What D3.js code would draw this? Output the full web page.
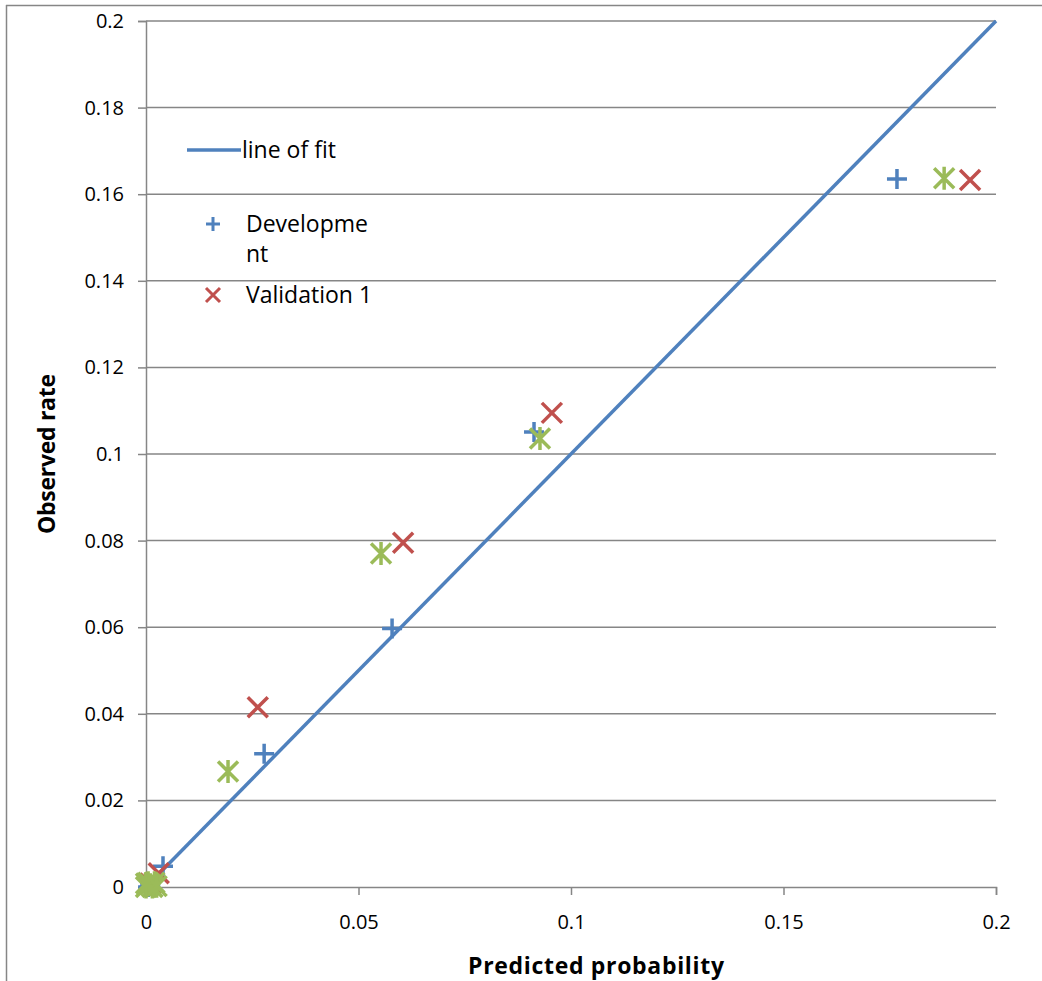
<!DOCTYPE html>
<html>
<head>
<meta charset="utf-8">
<script src="https://cdn.jsdelivr.net/npm/d3@7"></script>
<style>
  body { margin: 0; background: #fff; }
  text { font-family: "Open Sans", "Noto Sans", sans-serif; fill: #000; }
</style>
</head>
<body>
<div id="chart"></div>
<script>
// Observed vs predicted, three cohorts plus the identity line
const fitLine = [[0, 0], [0.2, 0.2]];
const development = [[0.1767, 0.1635], [0.0913, 0.1051], [0.0579, 0.0597], [0.0278, 0.0308], [0.004, 0.0048], [0.001, 0.0005], [0.0005, 0]];
const validation1 = [[0.1939, 0.1633], [0.0955, 0.1095], [0.0605, 0.0795], [0.0263, 0.0415], [0.003, 0.0032], [0.001, 0.0008]];
const validation2 = [[0.1878, 0.1637], [0.0927, 0.1036], [0.0553, 0.077], [0.0193, 0.0267], [0.002, 0.001], [0.0015, 0], [0.001, 0.0005], [0.0005, 0.001], [0, 0], [0.0025, 0.0002], [0, 0.0008]];
const xTicks = [0, 0.05, 0.1, 0.15, 0.2];
const yTicks = [0, 0.02, 0.04, 0.06, 0.08, 0.1, 0.12, 0.14, 0.16, 0.18, 0.2];

const width = 1042, height = 981;
const margin = {top: 21, right: 46, bottom: 94, left: 146};
const blue = '#4f81bd', red = '#c0504d', green = '#9bbb59', grey = '#868686';

let svg = d3.select('#chart').append('svg').attr('width', width).attr('height', height);

// chart frame (only top and left visible in the crop)
svg.append('line').attr('x1', 6).attr('x2', width).attr('y1', 5.5).attr('y2', 5.5).attr('stroke', grey).attr('stroke-width', 1.5);
svg.append('line').attr('x1', 6.5).attr('x2', 6.5).attr('y1', 5).attr('y2', height).attr('stroke', grey).attr('stroke-width', 1.5);

let x = d3.scaleLinear().domain([0, 0.2]).range([margin.left, width - margin.right]);
let y = d3.scaleLinear().domain([0, 0.2]).range([height - margin.bottom, margin.top]);

// horizontal gridlines
svg.append('g').selectAll('line')
  .data(yTicks.slice(1))
  .enter().append('line')
  .attr('x1', x(0)).attr('x2', x(0.2))
  .attr('y1', d => y(d)).attr('y2', d => y(d))
  .attr('stroke', grey).attr('stroke-width', 1.5);

// axes
let yAxis = svg.append('g')
  .attr('transform', `translate(${x(0)},0)`)
  .call(d3.axisLeft(y).tickValues(yTicks).tickSize(8).tickPadding(14).tickFormat(d3.format('')));
let xAxis = svg.append('g')
  .attr('transform', `translate(0,${y(0)})`)
  .call(d3.axisBottom(x).tickValues(xTicks).tickSize(8).tickPadding(20).tickFormat(d3.format('')));
[xAxis, yAxis].forEach(a => {
  a.select('.domain').attr('stroke', grey).attr('stroke-width', 1.5);
  a.selectAll('.tick line').attr('stroke', grey).attr('stroke-width', 1.5);
  a.selectAll('.tick text').style('font-size', '20px').attr('fill', '#000');
});

// axis titles
svg.append('text')
  .attr('x', 596).attr('y', 974)
  .attr('text-anchor', 'middle')
  .style('font-size', '23px').style('font-weight', 'bold')
  .attr('textLength', 256)
  .text('Predicted probability');
svg.append('text')
  .attr('transform', `translate(55,${(y(0) + y(0.2)) / 2}) rotate(-90)`)
  .attr('text-anchor', 'middle')
  .style('font-size', '23px').style('font-weight', 'bold')
  .attr('textLength', 160)
  .text('Observed rate');

// line of fit
svg.append('path')
  .datum(fitLine)
  .attr('d', d3.line().x(d => x(d[0])).y(d => y(d[1])))
  .attr('fill', 'none').attr('stroke', blue).attr('stroke-width', 3.5);

// marker shapes
const s = 10;
const plusPath = `M${-s},0H${s}M0,${-s}V${s}`;
const crossPath = `M${-s},${-s}L${s},${s}M${-s},${s}L${s},${-s}`;
const starPath = crossPath + `M0,${-s * 1.15}V${s * 1.15}`;

function drawSeries(data, path, color) {
  svg.append('g').selectAll('path')
    .data(data)
    .enter().append('path')
    .attr('transform', d => `translate(${x(d[0])},${y(d[1])})`)
    .attr('d', path)
    .attr('fill', 'none').attr('stroke', color).attr('stroke-width', 3.5);
}
drawSeries(development, plusPath, blue);
drawSeries(validation1, crossPath, red);
drawSeries(validation2, starPath, green);

// legend
let legend = svg.append('g');
legend.append('line').attr('x1', 187).attr('x2', 241).attr('y1', 150).attr('y2', 150)
  .attr('stroke', blue).attr('stroke-width', 3.5);
legend.append('text').attr('x', 242).attr('y', 158).style('font-size', '23px').text('line of fit');
legend.append('path').attr('transform', 'translate(213,224)')
  .attr('d', `M-7,0H7M0,-7V7`).attr('fill', 'none').attr('stroke', blue).attr('stroke-width', 3);
legend.append('text').attr('x', 246).attr('y', 232).style('font-size', '23px').text('Developme');
legend.append('text').attr('x', 246).attr('y', 262).style('font-size', '23px').text('nt');
legend.append('path').attr('transform', 'translate(213,295)')
  .attr('d', `M-7,-7L7,7M-7,7L7,-7`).attr('fill', 'none').attr('stroke', red).attr('stroke-width', 3);
legend.append('text').attr('x', 246).attr('y', 303).style('font-size', '23px').text('Validation 1');
</script>
</body>
</html>
